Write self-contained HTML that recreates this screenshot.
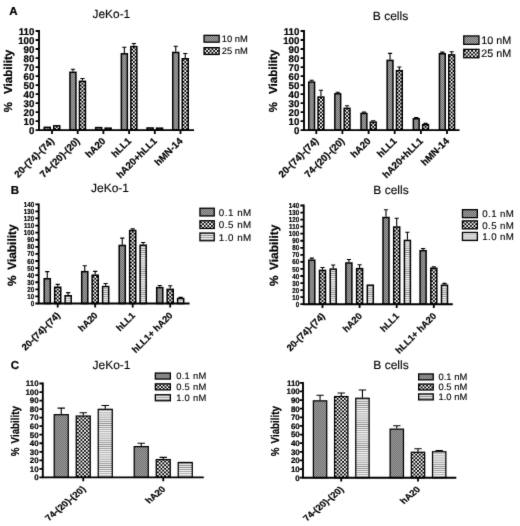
<!DOCTYPE html>
<html><head><meta charset="utf-8"><title>Figure</title>
<style>html,body{margin:0;padding:0;background:#fff;}body{width:520px;height:526px;overflow:hidden;}svg{display:block;font-family:"Liberation Sans", sans-serif;text-rendering:geometricPrecision;}text{fill:#000;stroke:#000;stroke-width:0.12px;}.b{font-weight:bold;stroke:#000;stroke-width:0.22px;}</style></head><body>
<svg width="520" height="526" viewBox="0 0 520 526">
<defs>
<filter id="soft" x="0" y="0" width="100%" height="100%" filterUnits="objectBoundingBox" color-interpolation-filters="sRGB"><feConvolveMatrix order="3" kernelMatrix="0.012 0.07 0.012 0.07 0.672 0.07 0.012 0.07 0.012" divisor="1" edgeMode="duplicate" preserveAlpha="true"/></filter>
<pattern id="g10" patternUnits="userSpaceOnUse" width="2" height="2"><rect width="2" height="2" fill="#a2a2a2"/><rect width="1" height="1" fill="#707070"/><rect x="1" y="1" width="1" height="1" fill="#707070"/></pattern>
<pattern id="g01" patternUnits="userSpaceOnUse" width="2" height="2"><rect width="2" height="2" fill="#a0a0a0"/><rect width="1" height="1" fill="#6c6c6c"/><rect x="1" y="1" width="1" height="1" fill="#6c6c6c"/></pattern>
<pattern id="chk" patternUnits="userSpaceOnUse" x="0.9" y="1.3" width="3.6" height="3.6"><rect width="3.6" height="3.6" fill="#fff"/><rect width="1.8" height="1.8" fill="#000"/><rect x="1.8" y="1.8" width="1.8" height="1.8" fill="#000"/></pattern>
<pattern id="hl" patternUnits="userSpaceOnUse" width="4" height="2.1"><rect width="4" height="2.1" fill="#f7f7f7"/><rect y="0.55" width="4" height="0.85" fill="#8c8c8c"/></pattern>
</defs>
<g filter="url(#soft)">
<rect width="520" height="526" fill="#fff"/>
<g>
<rect transform="translate(47 130)" x="-2.75" y="-2.66" width="6" height="2.76" fill="url(#g10)" stroke="#000" stroke-width="1.5"/>
<rect transform="translate(56.75 130.1)" x="-3" y="-4.3" width="6" height="4.3" fill="url(#chk)" stroke="#000" stroke-width="1.5"/>
<path d="M72.95 71.54V69.29M70.85 69.29H75.05" stroke="#000" stroke-width="1.1" fill="none"/>
<rect transform="translate(73 130)" x="-3.05" y="-57.71" width="6" height="57.81" fill="url(#g10)" stroke="#000" stroke-width="1.5"/>
<path d="M82.45 80.55V78.57M80.35 78.57H84.55" stroke="#000" stroke-width="1.1" fill="none"/>
<rect transform="translate(82.45 130.1)" x="-3" y="-48.8" width="6" height="48.8" fill="url(#chk)" stroke="#000" stroke-width="1.5"/>
<rect transform="translate(99 130)" x="-3.35" y="-2.39" width="6" height="2.49" fill="url(#g10)" stroke="#000" stroke-width="1.5"/>
<rect transform="translate(108.15 130.1)" x="-3" y="-1.95" width="6" height="1.95" fill="url(#chk)" stroke="#000" stroke-width="1.5"/>
<path d="M124.35 53.07V47.22M122.25 47.22H126.45" stroke="#000" stroke-width="1.1" fill="none"/>
<rect transform="translate(124 130)" x="-2.65" y="-76.18" width="6" height="76.28" fill="url(#g10)" stroke="#000" stroke-width="1.5"/>
<path d="M133.85 45.86V43.43M131.75 43.43H135.95" stroke="#000" stroke-width="1.1" fill="none"/>
<rect transform="translate(133.85 130.1)" x="-3" y="-83.48" width="6" height="83.48" fill="url(#chk)" stroke="#000" stroke-width="1.5"/>
<rect transform="translate(150 130)" x="-2.95" y="-2.03" width="6" height="2.13" fill="url(#g10)" stroke="#000" stroke-width="1.5"/>
<rect transform="translate(159.55 130.1)" x="-3" y="-1.95" width="6" height="1.95" fill="url(#chk)" stroke="#000" stroke-width="1.5"/>
<path d="M175.75 51.72V46.32M173.65 46.32H177.85" stroke="#000" stroke-width="1.1" fill="none"/>
<rect transform="translate(176 130)" x="-3.25" y="-77.53" width="6" height="77.63" fill="url(#g10)" stroke="#000" stroke-width="1.5"/>
<path d="M185.25 58.03V53.52M183.15 53.52H187.35" stroke="#000" stroke-width="1.1" fill="none"/>
<rect transform="translate(185.25 130.1)" x="-3" y="-71.32" width="6" height="71.32" fill="url(#chk)" stroke="#000" stroke-width="1.5"/>
<path d="M39 30V130.1H194" stroke="#000" stroke-width="1.9" fill="none" stroke-linejoin="miter"/>
<text class="b" font-size="9.7" text-anchor="end" transform="translate(34.4 133.92) scale(1 1)">0</text>
<text class="b" font-size="9.7" text-anchor="end" transform="translate(34.4 124.91) scale(1 1)">10</text>
<text class="b" font-size="9.7" text-anchor="end" transform="translate(34.4 115.9) scale(1 1)">20</text>
<text class="b" font-size="9.7" text-anchor="end" transform="translate(34.4 106.9) scale(1 1)">30</text>
<text class="b" font-size="9.7" text-anchor="end" transform="translate(34.4 97.89) scale(1 1)">40</text>
<text class="b" font-size="9.7" text-anchor="end" transform="translate(34.4 88.88) scale(1 1)">50</text>
<text class="b" font-size="9.7" text-anchor="end" transform="translate(34.4 79.87) scale(1 1)">60</text>
<text class="b" font-size="9.7" text-anchor="end" transform="translate(34.4 70.86) scale(1 1)">70</text>
<text class="b" font-size="9.7" text-anchor="end" transform="translate(34.4 61.85) scale(1 1)">80</text>
<text class="b" font-size="9.7" text-anchor="end" transform="translate(34.4 52.84) scale(1 1)">90</text>
<text class="b" font-size="9.7" text-anchor="end" transform="translate(34.4 43.83) scale(1 1)">100</text>
<text class="b" font-size="9.7" text-anchor="end" transform="translate(34.4 34.82) scale(1 1)">110</text>
<path d="M35.6 130.1H39M35.6 121.09H39M35.6 112.08H39M35.6 103.07H39M35.6 94.06H39M35.6 85.05H39M35.6 76.05H39M35.6 67.04H39M35.6 58.03H39M35.6 49.02H39M35.6 40.01H39M35.6 31H39M52 130.1V134M77.7 130.1V134M103.4 130.1V134M129.1 130.1V134M154.8 130.1V134M180.5 130.1V134" stroke="#000" stroke-width="1.8" fill="none"/>
<text class="b" font-size="9.7" text-anchor="end" transform="translate(54.7 141.6) scale(1 1) rotate(-45)">20-(74)-(74)</text>
<text class="b" font-size="9.7" text-anchor="end" transform="translate(80.4 141.6) scale(1 1) rotate(-45)">74-(20)-(20)</text>
<text class="b" font-size="9.7" text-anchor="end" transform="translate(106.1 141.6) scale(1 1) rotate(-45)">hA20</text>
<text class="b" font-size="9.7" text-anchor="end" transform="translate(131.8 141.6) scale(1 1) rotate(-45)">hLL1</text>
<text class="b" font-size="9.7" text-anchor="end" transform="translate(157.5 141.6) scale(1 1) rotate(-45)">hA20+hLL1</text>
<text class="b" font-size="9.7" text-anchor="end" transform="translate(183.2 141.6) scale(1 1) rotate(-45)">hMN-14</text>
<text x="111.4" y="18.1" font-size="11.9" text-anchor="middle">JeKo-1</text>
<text class="b" x="9.3" y="15.2" font-size="11.5">A</text>
<text class="b" font-size="11.6" transform="translate(12.11 112.2) rotate(-90) scale(1 1)">%</text>
<text class="b" font-size="11.6" transform="translate(12.11 94) rotate(-90) scale(1 1)">Viability</text>
<rect transform="translate(203 35)" x="1.05" y="0.35" width="15.1" height="6.8" fill="url(#g10)" stroke="#000" stroke-width="1.3"/>
<text x="221.7" y="42.2" font-size="9.4">10 nM</text>
<rect transform="translate(203.4 47)" x="0.65" y="0.65" width="15.1" height="6.8" fill="url(#chk)" stroke="#000" stroke-width="1.3"/>
<text x="221.7" y="54.4" font-size="9.4">25 nM</text>
</g>
<g>
<path d="M311.65 81.36V80.19M309.55 80.19H313.75" stroke="#000" stroke-width="1.1" fill="none"/>
<rect transform="translate(312 130)" x="-3.25" y="-47.89" width="5.8" height="47.99" fill="url(#g10)" stroke="#000" stroke-width="1.5"/>
<path d="M320.95 96.32V90.28M318.85 90.28H323.05" stroke="#000" stroke-width="1.1" fill="none"/>
<rect transform="translate(320.95 130.1)" x="-2.9" y="-33.03" width="5.8" height="33.03" fill="url(#chk)" stroke="#000" stroke-width="1.5"/>
<path d="M337.75 93.07V92.26M335.65 92.26H339.85" stroke="#000" stroke-width="1.1" fill="none"/>
<rect transform="translate(338 130)" x="-3.15" y="-36.18" width="5.8" height="36.28" fill="url(#g10)" stroke="#000" stroke-width="1.5"/>
<path d="M347.05 107.58V105.78M344.95 105.78H349.15" stroke="#000" stroke-width="1.1" fill="none"/>
<rect transform="translate(347.05 130.1)" x="-2.9" y="-21.77" width="5.8" height="21.77" fill="url(#chk)" stroke="#000" stroke-width="1.5"/>
<path d="M363.95 112.71V112.08M361.85 112.08H366.05" stroke="#000" stroke-width="1.1" fill="none"/>
<rect transform="translate(364 130)" x="-2.95" y="-16.54" width="5.8" height="16.64" fill="url(#g10)" stroke="#000" stroke-width="1.5"/>
<path d="M373.25 121.36V120.82M371.15 120.82H375.35" stroke="#000" stroke-width="1.1" fill="none"/>
<rect transform="translate(373.25 130.1)" x="-2.9" y="-7.99" width="5.8" height="7.99" fill="url(#chk)" stroke="#000" stroke-width="1.5"/>
<path d="M390.05 59.65V53.34M387.95 53.34H392.15" stroke="#000" stroke-width="1.1" fill="none"/>
<rect transform="translate(390 130)" x="-2.85" y="-69.6" width="5.8" height="69.7" fill="url(#g10)" stroke="#000" stroke-width="1.5"/>
<path d="M399.35 69.92V67.04M397.25 67.04H401.45" stroke="#000" stroke-width="1.1" fill="none"/>
<rect transform="translate(399.35 130.1)" x="-2.9" y="-59.43" width="5.8" height="59.43" fill="url(#chk)" stroke="#000" stroke-width="1.5"/>
<path d="M416.25 118.03V117.49M414.15 117.49H418.35" stroke="#000" stroke-width="1.1" fill="none"/>
<rect transform="translate(416 130)" x="-2.65" y="-11.22" width="5.8" height="11.32" fill="url(#g10)" stroke="#000" stroke-width="1.5"/>
<path d="M425.55 123.97V123.34M423.45 123.34H427.65" stroke="#000" stroke-width="1.1" fill="none"/>
<rect transform="translate(425.55 130.1)" x="-2.9" y="-5.38" width="5.8" height="5.38" fill="url(#chk)" stroke="#000" stroke-width="1.5"/>
<path d="M442.35 52.98V52.17M440.25 52.17H444.45" stroke="#000" stroke-width="1.1" fill="none"/>
<rect transform="translate(442 130)" x="-2.55" y="-76.27" width="5.8" height="76.37" fill="url(#g10)" stroke="#000" stroke-width="1.5"/>
<path d="M451.65 54.15V51.72M449.55 51.72H453.75" stroke="#000" stroke-width="1.1" fill="none"/>
<rect transform="translate(451.65 130.1)" x="-2.9" y="-75.2" width="5.8" height="75.2" fill="url(#chk)" stroke="#000" stroke-width="1.5"/>
<path d="M304 30V130.1H459.5" stroke="#000" stroke-width="1.9" fill="none" stroke-linejoin="miter"/>
<text class="b" font-size="9.7" text-anchor="end" transform="translate(299.4 133.92) scale(1 1)">0</text>
<text class="b" font-size="9.7" text-anchor="end" transform="translate(299.4 124.91) scale(1 1)">10</text>
<text class="b" font-size="9.7" text-anchor="end" transform="translate(299.4 115.9) scale(1 1)">20</text>
<text class="b" font-size="9.7" text-anchor="end" transform="translate(299.4 106.9) scale(1 1)">30</text>
<text class="b" font-size="9.7" text-anchor="end" transform="translate(299.4 97.89) scale(1 1)">40</text>
<text class="b" font-size="9.7" text-anchor="end" transform="translate(299.4 88.88) scale(1 1)">50</text>
<text class="b" font-size="9.7" text-anchor="end" transform="translate(299.4 79.87) scale(1 1)">60</text>
<text class="b" font-size="9.7" text-anchor="end" transform="translate(299.4 70.86) scale(1 1)">70</text>
<text class="b" font-size="9.7" text-anchor="end" transform="translate(299.4 61.85) scale(1 1)">80</text>
<text class="b" font-size="9.7" text-anchor="end" transform="translate(299.4 52.84) scale(1 1)">90</text>
<text class="b" font-size="9.7" text-anchor="end" transform="translate(299.4 43.83) scale(1 1)">100</text>
<text class="b" font-size="9.7" text-anchor="end" transform="translate(299.4 34.82) scale(1 1)">110</text>
<path d="M300.6 130.1H304M300.6 121.09H304M300.6 112.08H304M300.6 103.07H304M300.6 94.06H304M300.6 85.05H304M300.6 76.05H304M300.6 67.04H304M300.6 58.03H304M300.6 49.02H304M300.6 40.01H304M300.6 31H304M316.3 130.1V134M342.4 130.1V134M368.6 130.1V134M394.7 130.1V134M420.9 130.1V134M447 130.1V134" stroke="#000" stroke-width="1.8" fill="none"/>
<text class="b" font-size="9.7" text-anchor="end" transform="translate(319 141.6) scale(1 1) rotate(-45)">20-(74)-(74)</text>
<text class="b" font-size="9.7" text-anchor="end" transform="translate(345.1 141.6) scale(1 1) rotate(-45)">74-(20)-(20)</text>
<text class="b" font-size="9.7" text-anchor="end" transform="translate(371.3 141.6) scale(1 1) rotate(-45)">hA20</text>
<text class="b" font-size="9.7" text-anchor="end" transform="translate(397.4 141.6) scale(1 1) rotate(-45)">hLL1</text>
<text class="b" font-size="9.7" text-anchor="end" transform="translate(423.6 141.6) scale(1 1) rotate(-45)">hA20+hLL1</text>
<text class="b" font-size="9.7" text-anchor="end" transform="translate(449.7 141.6) scale(1 1) rotate(-45)">hMN-14</text>
<text x="390.5" y="19.6" font-size="12" text-anchor="middle">B cells</text>
<text class="b" font-size="11.6" transform="translate(276.71 112.2) rotate(-90) scale(1 1)">%</text>
<text class="b" font-size="11.6" transform="translate(276.71 94) rotate(-90) scale(1 1)">Viability</text>
<rect transform="translate(463 35)" x="0.75" y="0.95" width="15.2" height="8.4" fill="url(#g10)" stroke="#000" stroke-width="1.3"/>
<text x="481.3" y="44" font-size="10.8">10 nM</text>
<rect transform="translate(463.1 48.7)" x="0.65" y="0.65" width="15.2" height="8.4" fill="url(#chk)" stroke="#000" stroke-width="1.3"/>
<text x="481.3" y="57.4" font-size="10.8">25 nM</text>
</g>
<g>
<path d="M47.25 277.99V271.61M45.15 271.61H49.35" stroke="#000" stroke-width="1.1" fill="none"/>
<rect transform="translate(47 304)" x="-2.8" y="-25.26" width="6.1" height="24.76" fill="url(#g01)" stroke="#000" stroke-width="1.5"/>
<path d="M57.7 286.49V284.37M55.6 284.37H59.8" stroke="#000" stroke-width="1.1" fill="none"/>
<rect transform="translate(57.7 303.5)" x="-3.05" y="-16.26" width="6.1" height="16.26" fill="url(#chk)" stroke="#000" stroke-width="1.5"/>
<path d="M68.15 295V292.66M66.05 292.66H70.25" stroke="#000" stroke-width="1.1" fill="none"/>
<rect transform="translate(68 304)" x="-2.9" y="-8.25" width="6.1" height="7.75" fill="url(#hl)" stroke="#000" stroke-width="1.5"/>
<path d="M84.75 270.91V265.8M82.65 265.8H86.85" stroke="#000" stroke-width="1.1" fill="none"/>
<rect transform="translate(85 304)" x="-3.3" y="-32.34" width="6.1" height="31.84" fill="url(#g01)" stroke="#000" stroke-width="1.5"/>
<path d="M95.2 274.45V271.4M93.1 271.4H97.3" stroke="#000" stroke-width="1.1" fill="none"/>
<rect transform="translate(95.2 303.5)" x="-3.05" y="-28.3" width="6.1" height="28.3" fill="url(#chk)" stroke="#000" stroke-width="1.5"/>
<path d="M105.65 285.79V283.45M103.55 283.45H107.75" stroke="#000" stroke-width="1.1" fill="none"/>
<rect transform="translate(106 304)" x="-3.4" y="-17.46" width="6.1" height="16.96" fill="url(#hl)" stroke="#000" stroke-width="1.5"/>
<path d="M122.25 244.69V238.1M120.15 238.1H124.35" stroke="#000" stroke-width="1.1" fill="none"/>
<rect transform="translate(122 304)" x="-2.8" y="-58.56" width="6.1" height="58.06" fill="url(#g01)" stroke="#000" stroke-width="1.5"/>
<path d="M132.7 229.81V228.89M130.6 228.89H134.8" stroke="#000" stroke-width="1.1" fill="none"/>
<rect transform="translate(132.7 303.5)" x="-3.05" y="-72.94" width="6.1" height="72.94" fill="url(#chk)" stroke="#000" stroke-width="1.5"/>
<path d="M143.15 244.48V242.56M141.05 242.56H145.25" stroke="#000" stroke-width="1.1" fill="none"/>
<rect transform="translate(143 304)" x="-2.9" y="-58.77" width="6.1" height="58.27" fill="url(#hl)" stroke="#000" stroke-width="1.5"/>
<path d="M159.75 286.85V285.43M157.65 285.43H161.85" stroke="#000" stroke-width="1.1" fill="none"/>
<rect transform="translate(160 304)" x="-3.3" y="-16.4" width="6.1" height="15.9" fill="url(#g01)" stroke="#000" stroke-width="1.5"/>
<path d="M170.2 288.62V285.79M168.1 285.79H172.3" stroke="#000" stroke-width="1.1" fill="none"/>
<rect transform="translate(170.2 303.5)" x="-3.05" y="-14.13" width="6.1" height="14.13" fill="url(#chk)" stroke="#000" stroke-width="1.5"/>
<path d="M180.65 297.83V297.41M178.55 297.41H182.75" stroke="#000" stroke-width="1.1" fill="none"/>
<rect transform="translate(181 304)" x="-3.4" y="-5.42" width="6.1" height="4.92" fill="url(#hl)" stroke="#000" stroke-width="1.5"/>
<path d="M38.7 203.4V303.5H189.6" stroke="#000" stroke-width="1.9" fill="none" stroke-linejoin="miter"/>
<text class="b" font-size="7.2" text-anchor="end" transform="translate(34.1 306.08) scale(0.86 1)">0</text>
<text class="b" font-size="7.2" text-anchor="end" transform="translate(34.1 298.99) scale(0.86 1)">10</text>
<text class="b" font-size="7.2" text-anchor="end" transform="translate(34.1 291.91) scale(0.86 1)">20</text>
<text class="b" font-size="7.2" text-anchor="end" transform="translate(34.1 284.82) scale(0.86 1)">30</text>
<text class="b" font-size="7.2" text-anchor="end" transform="translate(34.1 277.73) scale(0.86 1)">40</text>
<text class="b" font-size="7.2" text-anchor="end" transform="translate(34.1 270.65) scale(0.86 1)">50</text>
<text class="b" font-size="7.2" text-anchor="end" transform="translate(34.1 263.56) scale(0.86 1)">60</text>
<text class="b" font-size="7.2" text-anchor="end" transform="translate(34.1 256.48) scale(0.86 1)">70</text>
<text class="b" font-size="7.2" text-anchor="end" transform="translate(34.1 249.39) scale(0.86 1)">80</text>
<text class="b" font-size="7.2" text-anchor="end" transform="translate(34.1 242.31) scale(0.86 1)">90</text>
<text class="b" font-size="7.2" text-anchor="end" transform="translate(34.1 235.22) scale(0.86 1)">100</text>
<text class="b" font-size="7.2" text-anchor="end" transform="translate(34.1 228.13) scale(0.86 1)">110</text>
<text class="b" font-size="7.2" text-anchor="end" transform="translate(34.1 221.05) scale(0.86 1)">120</text>
<text class="b" font-size="7.2" text-anchor="end" transform="translate(34.1 213.96) scale(0.86 1)">130</text>
<text class="b" font-size="7.2" text-anchor="end" transform="translate(34.1 206.88) scale(0.86 1)">140</text>
<path d="M35.3 303.5H38.7M35.3 296.41H38.7M35.3 289.33H38.7M35.3 282.24H38.7M35.3 275.16H38.7M35.3 268.07H38.7M35.3 260.99H38.7M35.3 253.9H38.7M35.3 246.81H38.7M35.3 239.73H38.7M35.3 232.64H38.7M35.3 225.56H38.7M35.3 218.47H38.7M35.3 211.39H38.7M35.3 204.3H38.7M57.7 303.5V307.4M95.2 303.5V307.4M132.7 303.5V307.4M170.2 303.5V307.4" stroke="#000" stroke-width="1.8" fill="none"/>
<text class="b" font-size="9.3" text-anchor="end" transform="translate(60.7 316) scale(1 1) rotate(-45)">20-(74)-(74)</text>
<text class="b" font-size="9.3" text-anchor="end" transform="translate(98.2 316) scale(1 1) rotate(-45)">hA20</text>
<text class="b" font-size="9.3" text-anchor="end" transform="translate(135.7 316) scale(1 1) rotate(-45)">hLL1</text>
<text class="b" font-size="9.3" text-anchor="end" transform="translate(173.2 316) scale(1 1) rotate(-45)">hLL1+ hA20</text>
<text x="110" y="191.8" font-size="12" text-anchor="middle">JeKo-1</text>
<text class="b" x="10.8" y="194.2" font-size="11.5">B</text>
<text class="b" font-size="11.9" transform="translate(16.12 286) rotate(-90) scale(1 1)">%</text>
<text class="b" font-size="11.9" transform="translate(16.12 269.8) rotate(-90) scale(1 1)">Viability</text>
<rect transform="translate(199 208)" x="0.95" y="0.25" width="14.3" height="7.7" fill="url(#g01)" stroke="#000" stroke-width="1.3"/>
<text x="218.8" y="215.8" font-size="9.8" letter-spacing="0.5">0.1 nM</text>
<rect transform="translate(199.3 220.1)" x="0.65" y="0.65" width="14.3" height="7.7" fill="url(#chk)" stroke="#000" stroke-width="1.3"/>
<text x="218.8" y="228.2" font-size="9.8" letter-spacing="0.5">0.5 nM</text>
<rect transform="translate(199.3 232.4)" x="0.65" y="0.65" width="14.3" height="7.7" fill="url(#hl)" stroke="#000" stroke-width="1.3"/>
<text x="218.8" y="240.7" font-size="9.8" letter-spacing="0.5">1.0 nM</text>
</g>
<g>
<path d="M311.8 259.43V258.16M309.7 258.16H313.9" stroke="#000" stroke-width="1.1" fill="none"/>
<rect transform="translate(312 304)" x="-3.2" y="-43.82" width="6" height="44.02" fill="url(#g01)" stroke="#000" stroke-width="1.5"/>
<path d="M322.5 269.65V267.54M320.4 267.54H324.6" stroke="#000" stroke-width="1.1" fill="none"/>
<rect transform="translate(322.5 304.2)" x="-3" y="-33.8" width="6" height="33.8" fill="url(#chk)" stroke="#000" stroke-width="1.5"/>
<path d="M333.2 268.39V265.07M331.1 265.07H335.3" stroke="#000" stroke-width="1.1" fill="none"/>
<rect transform="translate(333 304)" x="-2.8" y="-34.86" width="6" height="35.06" fill="url(#hl)" stroke="#000" stroke-width="1.5"/>
<path d="M348.9 262.25V259.43M346.8 259.43H351" stroke="#000" stroke-width="1.1" fill="none"/>
<rect transform="translate(349 304)" x="-3.1" y="-41" width="6" height="41.2" fill="url(#g01)" stroke="#000" stroke-width="1.5"/>
<path d="M359.6 267.89V264.72M357.5 264.72H361.7" stroke="#000" stroke-width="1.1" fill="none"/>
<rect transform="translate(359.6 304.2)" x="-3" y="-35.56" width="6" height="35.56" fill="url(#chk)" stroke="#000" stroke-width="1.5"/>
<rect transform="translate(370 304)" x="-2.7" y="-18.79" width="6" height="18.99" fill="url(#hl)" stroke="#000" stroke-width="1.5"/>
<path d="M386 216.78V209.73M383.9 209.73H388.1" stroke="#000" stroke-width="1.1" fill="none"/>
<rect transform="translate(386 304)" x="-3" y="-86.47" width="6" height="86.67" fill="url(#g01)" stroke="#000" stroke-width="1.5"/>
<path d="M396.7 226.3V218.19M394.6 218.19H398.8" stroke="#000" stroke-width="1.1" fill="none"/>
<rect transform="translate(396.7 304.2)" x="-3" y="-77.15" width="6" height="77.15" fill="url(#chk)" stroke="#000" stroke-width="1.5"/>
<path d="M407.4 239.69V232.29M405.3 232.29H409.5" stroke="#000" stroke-width="1.1" fill="none"/>
<rect transform="translate(407 304)" x="-2.6" y="-63.56" width="6" height="63.76" fill="url(#hl)" stroke="#000" stroke-width="1.5"/>
<path d="M423.1 249.91V248.5M421 248.5H425.2" stroke="#000" stroke-width="1.1" fill="none"/>
<rect transform="translate(423 304)" x="-2.9" y="-53.34" width="6" height="53.53" fill="url(#g01)" stroke="#000" stroke-width="1.5"/>
<path d="M433.8 267.54V266.83M431.7 266.83H435.9" stroke="#000" stroke-width="1.1" fill="none"/>
<rect transform="translate(433.8 304.2)" x="-3" y="-35.91" width="6" height="35.91" fill="url(#chk)" stroke="#000" stroke-width="1.5"/>
<path d="M444.5 284.46V283.4M442.4 283.4H446.6" stroke="#000" stroke-width="1.1" fill="none"/>
<rect transform="translate(444 304)" x="-2.5" y="-18.79" width="6" height="18.99" fill="url(#hl)" stroke="#000" stroke-width="1.5"/>
<path d="M303.7 204.6V304.2H452.8" stroke="#000" stroke-width="1.9" fill="none" stroke-linejoin="miter"/>
<text class="b" font-size="7.2" text-anchor="end" transform="translate(299.1 306.78) scale(0.86 1)">0</text>
<text class="b" font-size="7.2" text-anchor="end" transform="translate(299.1 299.73) scale(0.86 1)">10</text>
<text class="b" font-size="7.2" text-anchor="end" transform="translate(299.1 292.68) scale(0.86 1)">20</text>
<text class="b" font-size="7.2" text-anchor="end" transform="translate(299.1 285.63) scale(0.86 1)">30</text>
<text class="b" font-size="7.2" text-anchor="end" transform="translate(299.1 278.58) scale(0.86 1)">40</text>
<text class="b" font-size="7.2" text-anchor="end" transform="translate(299.1 271.53) scale(0.86 1)">50</text>
<text class="b" font-size="7.2" text-anchor="end" transform="translate(299.1 264.48) scale(0.86 1)">60</text>
<text class="b" font-size="7.2" text-anchor="end" transform="translate(299.1 257.43) scale(0.86 1)">70</text>
<text class="b" font-size="7.2" text-anchor="end" transform="translate(299.1 250.38) scale(0.86 1)">80</text>
<text class="b" font-size="7.2" text-anchor="end" transform="translate(299.1 243.33) scale(0.86 1)">90</text>
<text class="b" font-size="7.2" text-anchor="end" transform="translate(299.1 236.28) scale(0.86 1)">100</text>
<text class="b" font-size="7.2" text-anchor="end" transform="translate(299.1 229.23) scale(0.86 1)">110</text>
<text class="b" font-size="7.2" text-anchor="end" transform="translate(299.1 222.18) scale(0.86 1)">120</text>
<text class="b" font-size="7.2" text-anchor="end" transform="translate(299.1 215.13) scale(0.86 1)">130</text>
<text class="b" font-size="7.2" text-anchor="end" transform="translate(299.1 208.08) scale(0.86 1)">140</text>
<path d="M300.3 304.2H303.7M300.3 297.15H303.7M300.3 290.1H303.7M300.3 283.05H303.7M300.3 276H303.7M300.3 268.95H303.7M300.3 261.9H303.7M300.3 254.85H303.7M300.3 247.8H303.7M300.3 240.75H303.7M300.3 233.7H303.7M300.3 226.65H303.7M300.3 219.6H303.7M300.3 212.55H303.7M300.3 205.5H303.7M322.5 304.2V308.1M359.6 304.2V308.1M396.7 304.2V308.1M433.8 304.2V308.1" stroke="#000" stroke-width="1.8" fill="none"/>
<text class="b" font-size="9.3" text-anchor="end" transform="translate(325.5 316.7) scale(1 1) rotate(-45)">20-(74)-(74)</text>
<text class="b" font-size="9.3" text-anchor="end" transform="translate(362.6 316.7) scale(1 1) rotate(-45)">hA20</text>
<text class="b" font-size="9.3" text-anchor="end" transform="translate(399.7 316.7) scale(1 1) rotate(-45)">hLL1</text>
<text class="b" font-size="9.3" text-anchor="end" transform="translate(436.8 316.7) scale(1 1) rotate(-45)">hLL1+ hA20</text>
<text x="391" y="194.2" font-size="12" text-anchor="middle">B cells</text>
<text class="b" font-size="11.9" transform="translate(278.02 286) rotate(-90) scale(1 1)">%</text>
<text class="b" font-size="11.9" transform="translate(278.02 270) rotate(-90) scale(1 1)">Viability</text>
<rect transform="translate(462 209)" x="0.45" y="0.65" width="14.9" height="8" fill="url(#g01)" stroke="#000" stroke-width="1.3"/>
<text x="482.3" y="217.4" font-size="9.7" letter-spacing="0.4">0.1 nM</text>
<rect transform="translate(461.8 220.2)" x="0.65" y="0.65" width="14.9" height="8" fill="url(#chk)" stroke="#000" stroke-width="1.3"/>
<text x="482.3" y="229.2" font-size="9.7" letter-spacing="0.4">0.5 nM</text>
<rect transform="translate(461.8 231.8)" x="0.65" y="0.65" width="14.9" height="8" fill="url(#hl)" stroke="#000" stroke-width="1.3"/>
<text x="482.3" y="240.3" font-size="9.7" letter-spacing="0.4">1.0 nM</text>
</g>
<g>
<path d="M61.25 414.06V408.08M57.55 408.08H64.95" stroke="#000" stroke-width="1.1" fill="none"/>
<rect transform="translate(61 477)" x="-6.78" y="-62.31" width="14.05" height="62.71" fill="url(#g01)" stroke="#000" stroke-width="1.25"/>
<path d="M83.25 415.43V412.69M79.55 412.69H86.95" stroke="#000" stroke-width="1.1" fill="none"/>
<rect transform="translate(83.25 477.4)" x="-7.03" y="-61.35" width="14.05" height="61.35" fill="url(#chk)" stroke="#000" stroke-width="1.25"/>
<path d="M105.25 408.68V405.44M101.55 405.44H108.95" stroke="#000" stroke-width="1.1" fill="none"/>
<rect transform="translate(105 477)" x="-6.78" y="-67.69" width="14.05" height="68.09" fill="url(#hl)" stroke="#000" stroke-width="1.25"/>
<path d="M141.25 445.99V443.25M137.55 443.25H144.95" stroke="#000" stroke-width="1.1" fill="none"/>
<rect transform="translate(141 477)" x="-6.78" y="-30.39" width="14.05" height="30.79" fill="url(#g01)" stroke="#000" stroke-width="1.25"/>
<path d="M163.25 458.96V457.34M159.55 457.34H166.95" stroke="#000" stroke-width="1.1" fill="none"/>
<rect transform="translate(163.25 477.4)" x="-7.03" y="-17.81" width="14.05" height="17.81" fill="url(#chk)" stroke="#000" stroke-width="1.25"/>
<rect transform="translate(185 477)" x="-6.78" y="-14.51" width="14.05" height="14.91" fill="url(#hl)" stroke="#000" stroke-width="1.25"/>
<path d="M42.8 382.6V477.4H203.8" stroke="#000" stroke-width="1.9" fill="none" stroke-linejoin="miter"/>
<text class="b" font-size="7.9" text-anchor="end" transform="translate(38.6 480.23) scale(1 1)">0</text>
<text class="b" font-size="7.9" text-anchor="end" transform="translate(38.6 471.69) scale(1 1)">10</text>
<text class="b" font-size="7.9" text-anchor="end" transform="translate(38.6 463.16) scale(1 1)">20</text>
<text class="b" font-size="7.9" text-anchor="end" transform="translate(38.6 454.62) scale(1 1)">30</text>
<text class="b" font-size="7.9" text-anchor="end" transform="translate(38.6 446.08) scale(1 1)">40</text>
<text class="b" font-size="7.9" text-anchor="end" transform="translate(38.6 437.55) scale(1 1)">50</text>
<text class="b" font-size="7.9" text-anchor="end" transform="translate(38.6 429.01) scale(1 1)">60</text>
<text class="b" font-size="7.9" text-anchor="end" transform="translate(38.6 420.47) scale(1 1)">70</text>
<text class="b" font-size="7.9" text-anchor="end" transform="translate(38.6 411.94) scale(1 1)">80</text>
<text class="b" font-size="7.9" text-anchor="end" transform="translate(38.6 403.4) scale(1 1)">90</text>
<text class="b" font-size="7.9" text-anchor="end" transform="translate(38.6 394.86) scale(1 1)">100</text>
<text class="b" font-size="7.9" text-anchor="end" transform="translate(38.6 386.33) scale(1 1)">110</text>
<path d="M39.4 477.4H42.8M39.4 468.86H42.8M39.4 460.33H42.8M39.4 451.79H42.8M39.4 443.25H42.8M39.4 434.72H42.8M39.4 426.18H42.8M39.4 417.65H42.8M39.4 409.11H42.8M39.4 400.57H42.8M39.4 392.04H42.8M39.4 383.5H42.8M83.25 477.4V481.3M163.25 477.4V481.3" stroke="#000" stroke-width="1.8" fill="none"/>
<text class="b" font-size="9.9" text-anchor="end" transform="translate(86.25 489.6) scale(1 0.85) rotate(-45)">74-(20)-(20)</text>
<text class="b" font-size="9.9" text-anchor="end" transform="translate(166.25 489.6) scale(1 0.85) rotate(-45)">hA20</text>
<text x="111.5" y="369" font-size="12" text-anchor="middle">JeKo-1</text>
<text class="b" x="10.8" y="369" font-size="11.5">C</text>
<text class="b" font-size="11.5" transform="translate(19.03 456.3) rotate(-90) scale(0.85 1)">%</text>
<text class="b" font-size="11.5" transform="translate(19.03 443.4) rotate(-90) scale(0.85 1)">Viability</text>
<rect transform="translate(155 372)" x="0.35" y="1.05" width="15" height="6" fill="url(#g01)" stroke="#000" stroke-width="1.3"/>
<text x="176.3" y="378.9" font-size="9.4" letter-spacing="0.25">0.1 nM</text>
<rect transform="translate(154.7 383.2)" x="0.65" y="0.65" width="15" height="6" fill="url(#chk)" stroke="#000" stroke-width="1.3"/>
<text x="176.3" y="390.2" font-size="9.4" letter-spacing="0.25">0.5 nM</text>
<rect transform="translate(154.7 394.1)" x="0.65" y="0.65" width="15" height="6" fill="url(#hl)" stroke="#000" stroke-width="1.3"/>
<text x="176.3" y="400.9" font-size="9.4" letter-spacing="0.25">1.0 nM</text>
</g>
<g>
<path d="M320.05 400.23V395.31M316.35 395.31H323.75" stroke="#000" stroke-width="1.1" fill="none"/>
<rect transform="translate(320 478)" x="-6.62" y="-77.15" width="13.35" height="76.85" fill="url(#g01)" stroke="#000" stroke-width="1.25"/>
<path d="M341.25 395.91V392.98M337.55 392.98H344.95" stroke="#000" stroke-width="1.1" fill="none"/>
<rect transform="translate(341.25 477.7)" x="-6.68" y="-81.16" width="13.35" height="81.16" fill="url(#chk)" stroke="#000" stroke-width="1.25"/>
<path d="M362.45 397.64V390.05M358.75 390.05H366.15" stroke="#000" stroke-width="1.1" fill="none"/>
<rect transform="translate(362 478)" x="-6.23" y="-79.74" width="13.35" height="79.44" fill="url(#hl)" stroke="#000" stroke-width="1.25"/>
<path d="M396.8 428.52V425.76M393.1 425.76H400.5" stroke="#000" stroke-width="1.1" fill="none"/>
<rect transform="translate(397 478)" x="-6.88" y="-48.85" width="13.35" height="48.55" fill="url(#g01)" stroke="#000" stroke-width="1.25"/>
<path d="M418 451.65V448.71M414.3 448.71H421.7" stroke="#000" stroke-width="1.1" fill="none"/>
<rect transform="translate(418 477.7)" x="-6.68" y="-25.43" width="13.35" height="25.43" fill="url(#chk)" stroke="#000" stroke-width="1.25"/>
<path d="M439.2 451.13V450.61M435.5 450.61H442.9" stroke="#000" stroke-width="1.1" fill="none"/>
<rect transform="translate(439 478)" x="-6.48" y="-26.25" width="13.35" height="25.95" fill="url(#hl)" stroke="#000" stroke-width="1.25"/>
<path d="M303 381.9V477.7H456.3" stroke="#000" stroke-width="1.9" fill="none" stroke-linejoin="miter"/>
<text class="b" font-size="7.9" text-anchor="end" transform="translate(299.7 480.53) scale(1 1)">0</text>
<text class="b" font-size="7.9" text-anchor="end" transform="translate(299.7 471.9) scale(1 1)">10</text>
<text class="b" font-size="7.9" text-anchor="end" transform="translate(299.7 463.27) scale(1 1)">20</text>
<text class="b" font-size="7.9" text-anchor="end" transform="translate(299.7 454.65) scale(1 1)">30</text>
<text class="b" font-size="7.9" text-anchor="end" transform="translate(299.7 446.02) scale(1 1)">40</text>
<text class="b" font-size="7.9" text-anchor="end" transform="translate(299.7 437.39) scale(1 1)">50</text>
<text class="b" font-size="7.9" text-anchor="end" transform="translate(299.7 428.76) scale(1 1)">60</text>
<text class="b" font-size="7.9" text-anchor="end" transform="translate(299.7 420.14) scale(1 1)">70</text>
<text class="b" font-size="7.9" text-anchor="end" transform="translate(299.7 411.51) scale(1 1)">80</text>
<text class="b" font-size="7.9" text-anchor="end" transform="translate(299.7 402.88) scale(1 1)">90</text>
<text class="b" font-size="7.9" text-anchor="end" transform="translate(299.7 394.26) scale(1 1)">100</text>
<text class="b" font-size="7.9" text-anchor="end" transform="translate(299.7 385.63) scale(1 1)">110</text>
<path d="M299.6 477.7H303M299.6 469.07H303M299.6 460.45H303M299.6 451.82H303M299.6 443.19H303M299.6 434.56H303M299.6 425.94H303M299.6 417.31H303M299.6 408.68H303M299.6 400.05H303M299.6 391.43H303M299.6 382.8H303M341.25 477.7V481.6M418 477.7V481.6" stroke="#000" stroke-width="1.8" fill="none"/>
<text class="b" font-size="9.9" text-anchor="end" transform="translate(344.25 489.9) scale(1 0.85) rotate(-45)">74-(20)-(20)</text>
<text class="b" font-size="9.9" text-anchor="end" transform="translate(421 489.9) scale(1 0.85) rotate(-45)">hA20</text>
<text x="391" y="369.4" font-size="12" text-anchor="middle">B cells</text>
<text class="b" font-size="11.5" transform="translate(279.03 456.3) rotate(-90) scale(0.85 1)">%</text>
<text class="b" font-size="11.5" transform="translate(279.03 443.4) rotate(-90) scale(0.85 1)">Viability</text>
<rect transform="translate(418 373)" x="0.65" y="0.95" width="14.6" height="5.9" fill="url(#g01)" stroke="#000" stroke-width="1.3"/>
<text x="438.4" y="380.1" font-size="9.4" letter-spacing="0.05">0.1 nM</text>
<rect transform="translate(418 383.4)" x="0.65" y="0.65" width="14.6" height="5.9" fill="url(#chk)" stroke="#000" stroke-width="1.3"/>
<text x="438.4" y="390" font-size="9.4" letter-spacing="0.05">0.5 nM</text>
<rect transform="translate(418 393.3)" x="0.65" y="0.65" width="14.6" height="5.9" fill="url(#hl)" stroke="#000" stroke-width="1.3"/>
<text x="438.4" y="400.1" font-size="9.4" letter-spacing="0.05">1.0 nM</text>
</g>
</g>
</svg></body></html>
